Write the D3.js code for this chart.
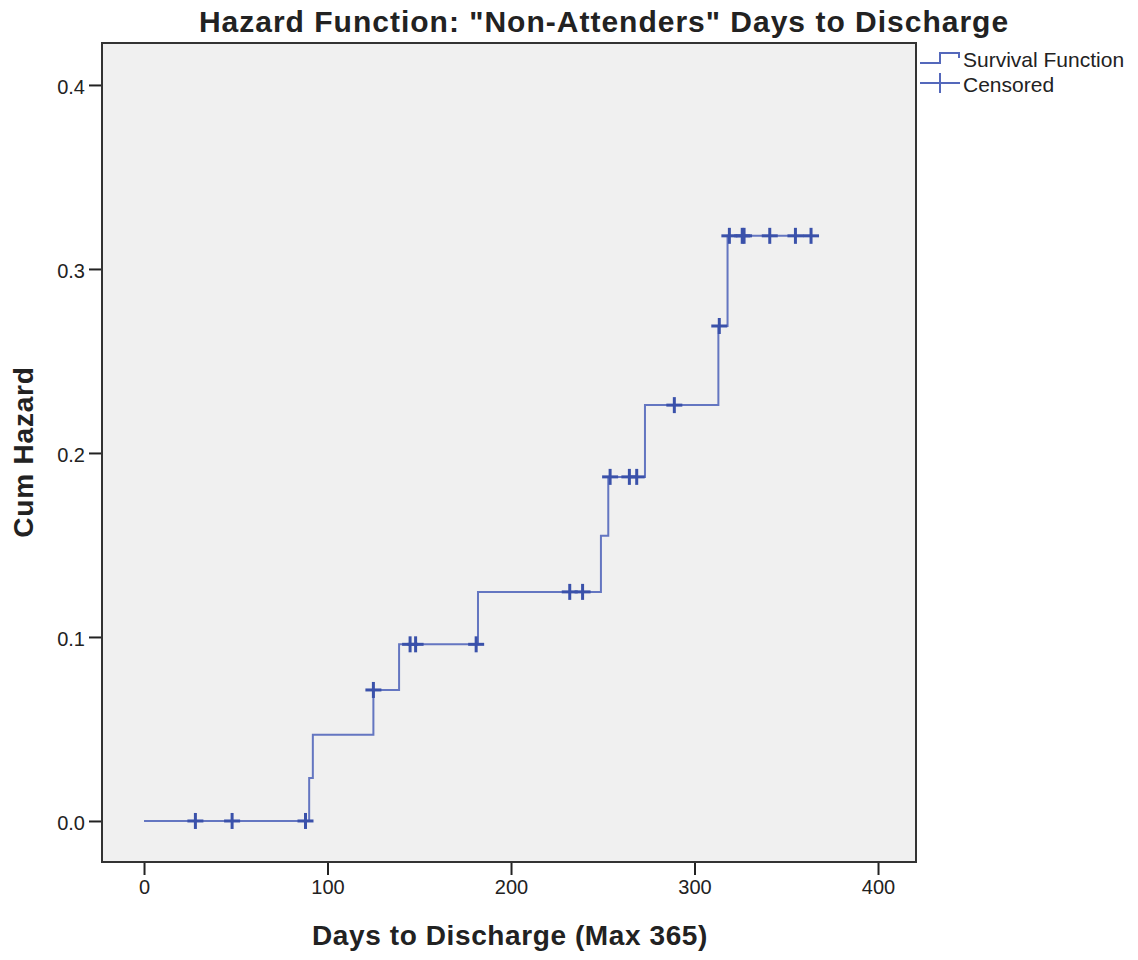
<!DOCTYPE html>
<html>
<head>
<meta charset="utf-8">
<script src="https://cdn.jsdelivr.net/npm/d3@7"></script>
<style>
  body { margin: 0; background: #fff; }
  text { font-family: "Liberation Sans", Arial, sans-serif; fill: #222; }
</style>
</head>
<body>
<div id="chart"></div>
<script>
// step points of the cumulative hazard (day, value)
var stepDays = [0, 90, 92, 125, 139, 182, 249, 253, 273, 313, 318];
var stepHaz  = [0, 0.0234, 0.0468, 0.0712, 0.096, 0.1245, 0.155, 0.187, 0.226, 0.269, 0.318];
var lastDay = 364;
// censored cases (days)
var censDays = [28, 48, 88, 125, 145, 148, 181, 232, 239, 254, 264.5, 268.5, 289, 313.5, 319, 326, 327, 341, 355, 363.5];
var xTicks = [0, 100, 200, 300, 400];
var yTicks = [0.0, 0.1, 0.2, 0.3, 0.4];

var W = 1138, H = 960;
var plot = {left: 102, right: 916, top: 43, bottom: 862};
var lineCol = "#5468bb", markCol = "#3a51aa";

var svg = d3.select("#chart").append("svg")
  .attr("width", W).attr("height", H);

var x = d3.scaleLinear().domain([-22.9, 420.7]).range([plot.left, plot.right]);
var y = d3.scaleLinear().domain([-0.0223, 0.4228]).range([plot.bottom, plot.top]);

// plot background
svg.append("rect")
  .attr("x", plot.left).attr("y", plot.top)
  .attr("width", plot.right - plot.left).attr("height", plot.bottom - plot.top)
  .attr("fill", "#f0f0f0");

// axes
var xAxis = svg.append("g")
  .attr("transform", "translate(0," + plot.bottom + ")")
  .call(d3.axisBottom(x).tickValues(xTicks).tickSize(13).tickPadding(5).tickFormat(d3.format("d")));
var yAxis = svg.append("g")
  .attr("transform", "translate(" + plot.left + ",0)")
  .call(d3.axisLeft(y).tickValues(yTicks).tickSize(13).tickPadding(4).tickFormat(d3.format(".1f")));
[xAxis, yAxis].forEach(function(a) {
  a.select(".domain").remove();
  a.selectAll(".tick line").attr("stroke", "#222").attr("stroke-width", 2);
  a.selectAll(".tick text").style("font-size", "20px").attr("fill", "#222");
});
yAxis.selectAll(".tick text").attr("dy", "0.42em");

// frame
svg.append("rect")
  .attr("x", plot.left).attr("y", plot.top)
  .attr("width", plot.right - plot.left).attr("height", plot.bottom - plot.top)
  .attr("fill", "none").attr("stroke", "#333").attr("stroke-width", 2);

// step line
var pts = stepDays.map(function(d, i) { return [d, stepHaz[i]]; });
pts.push([lastDay, stepHaz[stepHaz.length - 1]]);
var line = d3.line()
  .x(function(d) { return x(d[0]); })
  .y(function(d) { return y(d[1]); })
  .curve(d3.curveStepAfter);
svg.append("path")
  .datum(pts)
  .attr("d", line)
  .attr("fill", "none")
  .attr("stroke", lineCol)
  .attr("stroke-width", 2)
  .attr("stroke-opacity", 0.9);

// censored marks
function hazAt(day) {
  var v = 0;
  for (var i = 0; i < stepDays.length; i++) if (stepDays[i] <= day) v = stepHaz[i];
  return v;
}
var marks = svg.append("g").selectAll("g")
  .data(censDays).enter().append("g")
  .attr("transform", function(d) { return "translate(" + x(d) + "," + y(hazAt(d)) + ")"; });
marks.append("line").attr("x1", -8).attr("x2", 8).attr("y1", 0).attr("y2", 0);
marks.append("line").attr("x1", 0).attr("x2", 0).attr("y1", -8).attr("y2", 8);
marks.selectAll("line").attr("stroke", markCol).attr("stroke-width", 3);

// title and axis labels
svg.append("text")
  .attr("x", 604).attr("y", 32)
  .attr("text-anchor", "middle")
  .style("font-size", "30px").style("font-weight", "bold").style("letter-spacing", "1px")
  .text("Hazard Function: \"Non-Attenders\" Days to Discharge");
svg.append("text")
  .attr("x", 510).attr("y", 945)
  .attr("text-anchor", "middle")
  .style("font-size", "28px").style("font-weight", "bold").style("letter-spacing", "0.6px")
  .text("Days to Discharge (Max 365)");
svg.append("text")
  .attr("transform", "translate(33,452) rotate(-90)")
  .attr("text-anchor", "middle")
  .style("font-size", "28px").style("font-weight", "bold").style("letter-spacing", "0.8px")
  .text("Cum Hazard");

// legend
var lg = svg.append("g");
lg.append("path")
  .attr("d", "M920,63 H940 V53 H959 V58")
  .attr("fill", "none").attr("stroke", lineCol).attr("stroke-width", 2);
lg.append("text").attr("x", 963).attr("y", 67).style("font-size", "21px").text("Survival Function");
lg.append("line").attr("x1", 920).attr("x2", 960).attr("y1", 83).attr("y2", 83)
  .attr("stroke", lineCol).attr("stroke-width", 2);
lg.append("line").attr("x1", 940).attr("x2", 940).attr("y1", 73).attr("y2", 93)
  .attr("stroke", lineCol).attr("stroke-width", 2);
lg.append("text").attr("x", 963).attr("y", 92).style("font-size", "21px").text("Censored");
</script>
</body>
</html>
